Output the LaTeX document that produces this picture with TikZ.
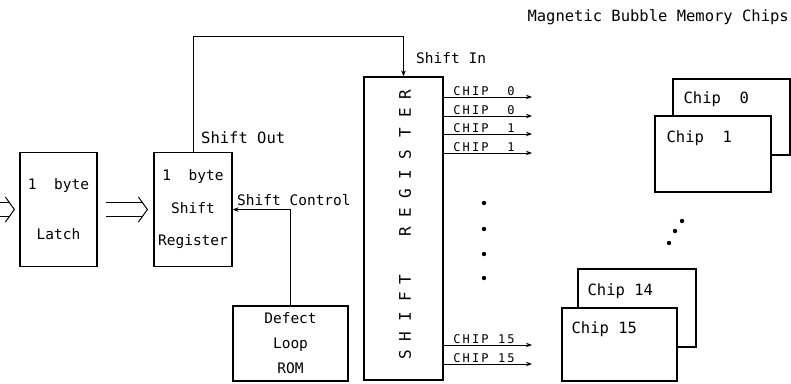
\documentclass[tikz,border=0pt]{standalone}
\usepackage{fontspec}
\setmainfont{DejaVu Sans Mono}
\newfontfamily\chipfont[LetterSpace=18]{DejaVu Sans Mono}
\usetikzlibrary{arrows.meta,positioning}

\tikzset{
  box/.style={draw,line width=1.2pt,inner sep=0pt,align=center,font=\fontsize{14.5}{17}\selectfont},
  chipbox/.style={draw,line width=1.2pt,fill=white,inner sep=0pt},
  wire/.style={line width=1pt},
  tip/.style={-{Stealth[length=6pt,width=4.5pt]}},
  busline/.style={double,double distance=13pt,line width=1pt},
  lbl/.style={inner sep=0pt,font=\fontsize{14.5}{17}\selectfont},
  chiptxt/.style={inner sep=0pt,anchor=north west,font=\fontsize{15.5}{18}\selectfont},
  outlbl/.style={inner sep=1.5pt,anchor=south west,font=\chipfont\fontsize{12}{14}\selectfont},
  vlbl/.style={rotate=90,inner sep=0pt,font=\fontsize{16}{18}\selectfont},
}

\begin{document}
\begin{tikzpicture}[x=1pt,y=-1pt]
    \useasboundingbox (0,0) rectangle (791,383);
    % Boxes
    \node[box,minimum width=77pt,minimum height=114pt] (latch) at (58.5,209.5) {1\ \ byte\\[33pt]Latch};
    \node[box,minimum width=78pt,minimum height=114pt] (sreg) at (193,209.5) {1\ \ byte\\[15.5pt]Shift\\[15.5pt]Register};
    \node[box,minimum width=115pt,minimum height=75pt] (rom) at (290.5,343.5) {Defect\\[8pt]Loop\\[8pt]ROM};
    \node[box,minimum width=79pt,minimum height=303pt] (bigreg) at (403.5,228.5) {};
    \foreach \ch/\y [count=\k] in {S/355,H/337,I/317,F/297,T/280,R/232,E/213,G/194,I/175,S/155,T/133,E/113,R/95}
      \node[vlbl] (sr\k) at (405,\y) {\ch};
    % Chips
    \node[chipbox,minimum width=117pt,minimum height=76pt] (chip0) at (731.5,117) {};
    \node[chipbox,minimum width=116pt,minimum height=76pt] (chip1) at (713,154) {};
    \node[chipbox,minimum width=118pt,minimum height=78pt] (chip14) at (637,308) {};
    \node[chipbox,minimum width=115pt,minimum height=73pt] (chip15) at (619.5,344.5) {};
    \node[chiptxt,below right=13pt and 11pt of chip0.north west] (chip0txt) {Chip\ \ 0};
    \node[chiptxt,below right=15pt and 12pt of chip1.north west] (chip1txt) {Chip\ \ 1};
    \node[chiptxt,below right=15pt and 10pt of chip14.north west] (chip14txt) {Chip 14};
    \node[chiptxt,below right=14pt and 10pt of chip15.north west] (chip15txt) {Chip 15};
    % Labels
    \node[lbl,anchor=east,font=\fontsize{15.5}{18}\selectfont] (title) at (789,17) {Magnetic Bubble Memory Chips};
    \node[lbl,anchor=west,font=\fontsize{15.5}{18}\selectfont] (shiftout) at (201,138) {Shift Out};
    \node[lbl,anchor=west] (shiftin) at (416,58) {Shift In};
    \node[lbl,anchor=west] (shiftctl) at (237,200) {Shift Control};
    % Bus arrows
    \coordinate (busin) at (-20,209.5);
    \coordinate (bustip1) at ([xshift=-5pt]latch.west);
    \coordinate (busout) at ([xshift=8pt]latch.east);
    \coordinate (bustip2) at ([xshift=-6pt]sreg.west);
    \draw[busline] (busin) -- ([xshift=-4.7pt]bustip1);
    \draw[wire] (bustip1) ++(-9,-12.5) -- (bustip1) -- ++(-9,12.5);
    \draw[busline] (busout) -- ([xshift=-4.7pt]bustip2);
    \draw[wire] (bustip2) ++(-9,-12.5) -- (bustip2) -- ++(-9,12.5);
    % Connectors
    \draw[wire,tip] (sreg.north) -- ++(0,-115) -| (bigreg.north);
    \draw[wire,tip] (rom.north) |- (sreg.east);
    \foreach \y/\n [count=\k] in {97/{\ 0},116/{\ 0},134/{\ 1},153/{\ 1},345/15,364/15}{
      \coordinate (out\k) at (532,\y);
      \draw[wire,tip] (bigreg.east |- out\k) -- (out\k);
      \node[outlbl] (outlbl\k) at ([xshift=8pt]bigreg.east |- out\k) {CHIP\ \n};
    }
    % Markers
    \foreach \y in {203,229,254,278}
      \fill (484,\y) circle (2.2pt);
    \fill (682,221) circle (2.2pt);
    \fill (675,231) circle (2.2pt);
    \fill (669,243) circle (2.2pt);
\end{tikzpicture}
\end{document}
